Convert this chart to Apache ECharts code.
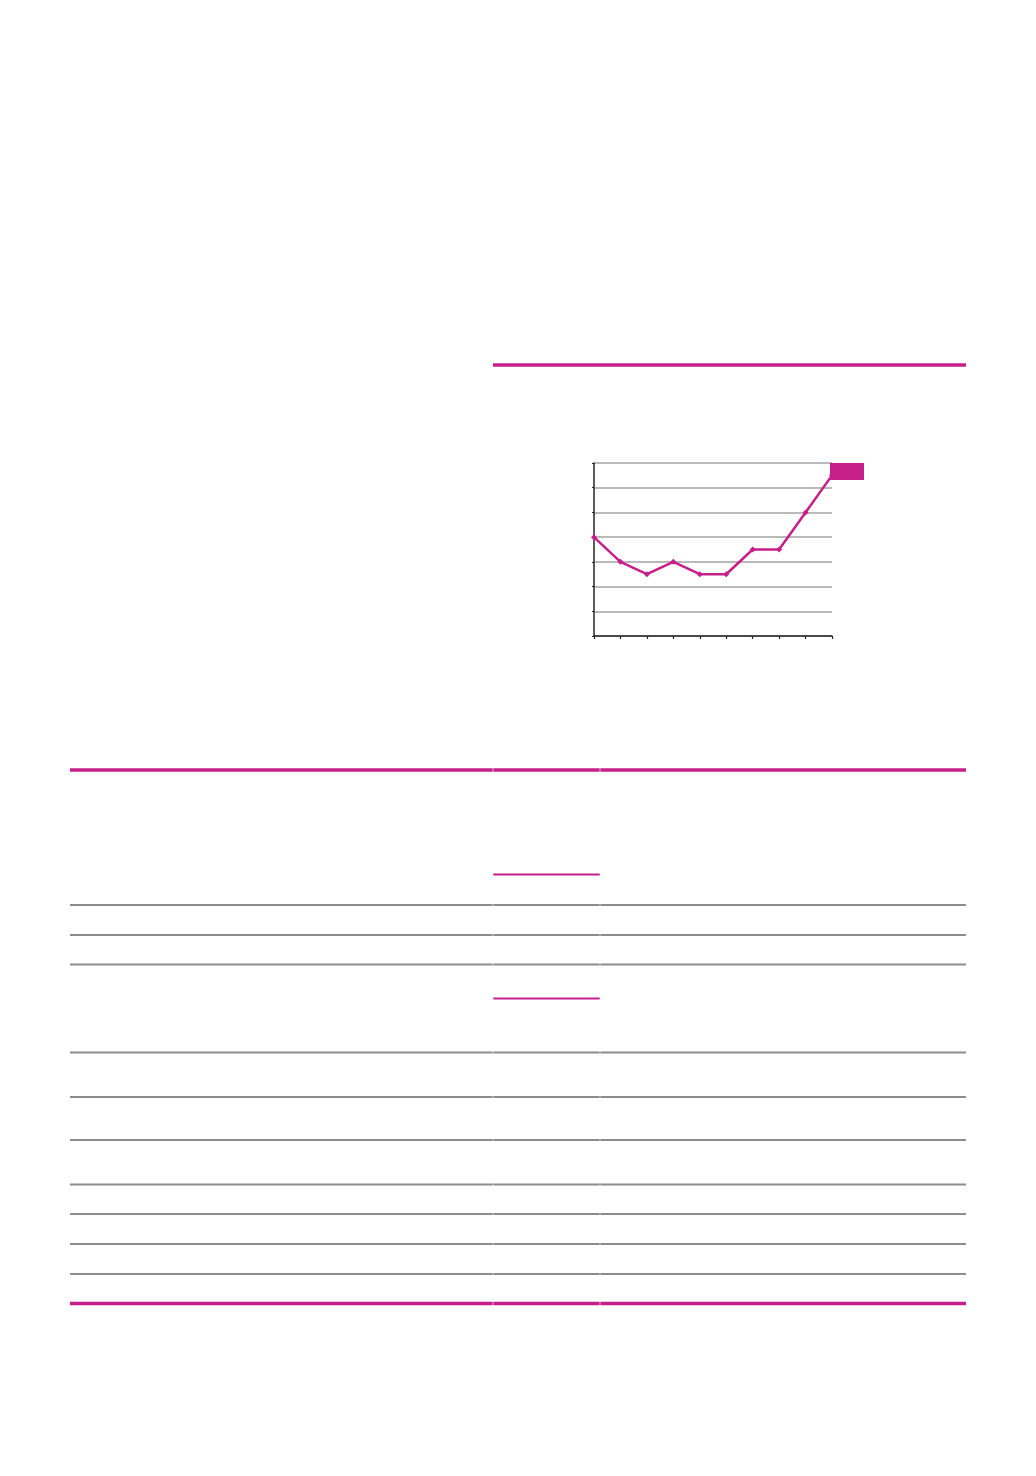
<!DOCTYPE html>
<html>
<head>
<meta charset="utf-8">
<script src="https://cdn.jsdelivr.net/npm/echarts@6/dist/echarts.min.js"></script>
<style>
    html, body { margin: 0; padding: 0; background: #fff; }
    #page { width: 1036px; height: 1476px; }
</style>
</head>
<body>
<div id="page"></div>
<script>
// chart data
const categories = ['1', '2', '3', '4', '5', '6', '7', '8', '9', '10']
const values = [4, 3, 2.5, 3, 2.5, 2.5, 3.5, 3.5, 5, 6.5]
const seriesName = 'Serie 1'
const yMin = 0
const yMax = 7
const yStep = 1

const pink = '#c71f8a'
const gray = '#8c8c8c'
const axisDark = '#2b2520'

// page rules (table lines, separators)
const grayRows = [905, 935, 964.5, 1052.5, 1097, 1140, 1184.5, 1214, 1244, 1274]
const shortPinkRows = [874.5, 998.5]

window.onload = function() {
    let chartDom = document.getElementById('page')
    let myChart = echarts.init(chartDom, null, { renderer: 'canvas' })

    let graphics = []
    function hline(y, x1, x2, color, w) {
        graphics.push({
            type: 'line',
            shape: { x1: x1, y1: y, x2: x2, y2: y },
            style: { stroke: color, lineWidth: w },
            silent: true
        })
    }
    hline(365, 493, 966, pink, 3.5)
    hline(770, 70, 966, pink, 3.5)
    shortPinkRows.forEach(y => hline(y, 493, 600, pink, 1.8))
    grayRows.forEach(y => hline(y, 70, 966, gray, 2))
    hline(1303.5, 70, 966, pink, 3.5)
    // thin column gaps
    ;[493, 600].forEach(x => {
        graphics.push({
            type: 'rect',
            shape: { x: x - 0.5, y: 765, width: 1, height: 545 },
            style: { fill: '#ffffff', opacity: 0.6 },
            silent: true,
            z: 10
        })
    })

    let option = {
        animation: false,
        backgroundColor: '#ffffff',
        graphic: graphics,
        grid: {
            left: 594,
            top: 463,
            width: 238,
            height: 173
        },
        legend: {
            left: 830,
            top: 463,
            padding: 0,
            itemWidth: 34,
            itemHeight: 17,
            formatter: function() { return '' },
            data: [{ name: seriesName, icon: 'rect' }]
        },
        xAxis: {
            type: 'category',
            boundaryGap: false,
            data: categories,
            axisLine: { lineStyle: { color: axisDark, width: 1.5 } },
            axisTick: { show: true, length: 3, lineStyle: { color: axisDark, width: 1.2 } },
            axisLabel: { show: false },
            splitLine: { show: false }
        },
        yAxis: {
            type: 'value',
            min: yMin,
            max: yMax,
            interval: yStep,
            axisLine: { show: true, lineStyle: { color: axisDark, width: 1.5 } },
            axisTick: { show: true, length: 2, lineStyle: { color: axisDark, width: 1.2 } },
            axisLabel: { show: false },
            splitLine: { show: true, lineStyle: { color: '#a3a3a3', width: 1.5 } }
        },
        series: [{
            name: seriesName,
            type: 'line',
            data: values,
            color: pink,
            symbol: 'diamond',
            symbolSize: 6,
            lineStyle: { color: pink, width: 2.5 },
            itemStyle: { color: pink }
        }]
    }
    option && myChart.setOption(option)
}
</script>
</body>
</html>
